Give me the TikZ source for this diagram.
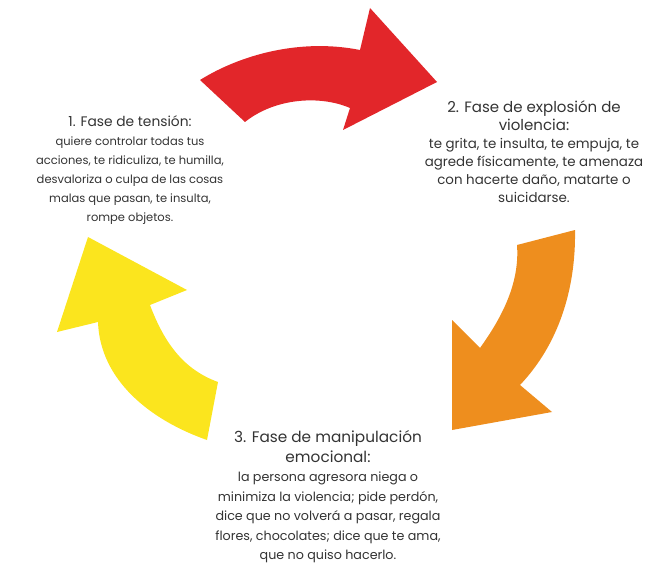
\documentclass[tikz,border=0pt]{standalone}
\usepackage{fontspec}
\setmainfont{Poppins}
\definecolor{redA}{HTML}{E2262A}
\definecolor{orangeA}{HTML}{EE8E1E}
\definecolor{yellowA}{HTML}{FBE51E}
\definecolor{txt}{HTML}{333333}
\tikzset{
  arrowshape/.style={line join=round},
  phase/.style={align=center, text=txt, inner sep=0pt},
}
\begin{document}
\begin{tikzpicture}[x=1pt,y=-1pt]
\useasboundingbox (0,0) rectangle (645,564);
% red arrow
\fill[redA, arrowshape] (200,80) .. controls (240,55) and (300,38) .. (360,50)
  -- (370,8) -- (437,82) -- (343,130) -- (350,108)
  .. controls (320,95) and (275,98) .. (245,122) -- cycle;
% orange arrow
\fill[orangeA, arrowshape] (517,245) -- (575,230)
  .. controls (576,290) and (558,345) .. (520,385)
  -- (552,412) -- (452,430) -- (452,320) -- (480,348)
  .. controls (500,320) and (520,285) .. (517,245) -- cycle;
% yellow arrow
\fill[yellowA, arrowshape] (88,237) -- (187,290) -- (150,305)
  .. controls (165,345) and (185,370) .. (218,382)
  -- (207,440) .. controls (150,420) and (100,380) .. (98,322)
  -- (57,332) -- cycle;
% texts
\node[phase, font=\fontsize{11.5}{19}\selectfont] (t1) at (130,170)
  {{\fontsize{13.8}{19}\selectfont 1. Fase de tensión:}\\
   quiere controlar todas tus\\
   acciones, te ridiculiza, te humilla,\\
   desvaloriza o culpa de las cosas\\
   malas que pasan, te insulta,\\
   rompe objetos.};
\node[phase, font=\fontsize{13.4}{18}\selectfont] (t2) at (534,152)
  {{\fontsize{15}{18}\selectfont 2. Fase de explosión de}\\
   {\fontsize{15}{18}\selectfont violencia:}\\
   te grita, te insulta, te empuja, te\\
   agrede físicamente, te amenaza\\
   con hacerte daño, matarte o\\
   suicidarse.};
\node[phase, font=\fontsize{12.7}{19.5}\selectfont] (t3) at (328,497)
  {{\fontsize{15.3}{19.5}\selectfont 3. Fase de manipulación}\\
   {\fontsize{15.3}{19.5}\selectfont emocional:}\\
   la persona agresora niega o\\
   minimiza la violencia; pide perdón,\\
   dice que no volverá a pasar, regala\\
   flores, chocolates; dice que te ama,\\
   que no quiso hacerlo.};
\end{tikzpicture}
\end{document}
